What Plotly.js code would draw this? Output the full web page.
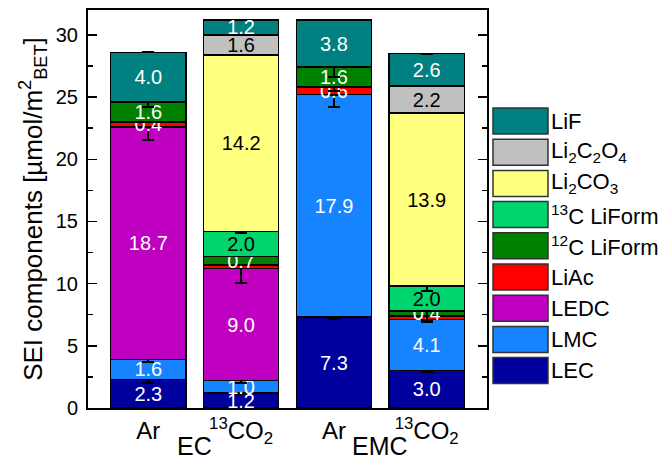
<!DOCTYPE html>
<html>
<head>
<meta charset="utf-8">
<script src="https://cdn.plot.ly/plotly-3.0.1.min.js"></script>
<style>html,body{margin:0;padding:0;background:#fff;}#chart{width:665px;height:460px;}</style>
</head>
<body>
<div id="chart"></div>
<script>
// ---- data ----
const categories = ["Ar", "<sup>13</sup>CO<sub>2</sub>", "Ar", "<sup>13</sup>CO<sub>2</sub>"];
const solvents = ["EC", "EMC"];
const seriesNames = ["LEC", "LMC", "LEDC", "LiAc", "<sup>12</sup>C LiForm", "<sup>13</sup>C LiForm",
  "Li<sub>2</sub>CO<sub>3</sub>", "Li<sub>2</sub>C<sub>2</sub>O<sub>4</sub>", "LiF"];
const LEC      = [2.3, 1.2, 7.3, 3.0];
const LMC      = [1.6, 1.0, 17.9, 4.1];
const LEDC     = [18.7, 9.0, 0, 0];
const LiAc     = [0.4, 0.3, 0.6, 0.3];
const LiForm12 = [1.6, 0.7, 1.6, 0.4];
const LiForm13 = [0, 2.0, 0, 2.0];
const Li2CO3   = [0, 14.2, 0, 13.9];
const Li2C2O4  = [0, 1.6, 0, 2.2];
const LiF      = [4.0, 1.2, 3.8, 2.6];
// error bars (null = none)
const errLEC      = [0.25, 0.1, 0.15, 0.1];
const errLMC      = [0.2, 0.15, 1.0, 0.2];
const errLEDC     = [1.05, 1.15, null, null];
const errLiAc     = [null, null, 0.3, null];
const errLiForm12 = [0.4, null, 0.8, 0.8];
const errLiForm13 = [null, 0.15, null, 0.4];
const errNone     = [null, null, null, null];
// which values carry a printed label
const labelLiAc   = [true, false, true, false];

// ---- styles ----
const seriesValues = [LEC, LMC, LEDC, LiAc, LiForm12, LiForm13, Li2CO3, Li2C2O4, LiF];
const seriesErr = [errLEC, errLMC, errLEDC, errLiAc, errLiForm12, errLiForm13, errNone, errNone, errNone];
const seriesLabelMask = [null, null, null, labelLiAc, null, null, null, null, null];
const seriesColors = ["#00009C", "#1683FF", "#C000C0", "#FF0000", "#008000", "#00D46E", "#FFFF80", "#C0C0C0", "#008080"];
const seriesTextColors = ["#fff", "#fff", "#fff", "#fff", "#fff", "#000", "#000", "#000", "#fff"];
const FONT = "Liberation Sans, Arial, sans-serif";

const xpos = categories.map((c, i) => i);

const traces = seriesValues.map((vals, k) => ({
  type: "bar",
  name: seriesNames[k],
  x: xpos,
  y: vals,
  width: 0.81,
  marker: {color: seriesColors[k], line: {color: "#000", width: 1.5}},
  text: vals.map((v, i) => (v > 0 && (!seriesLabelMask[k] || seriesLabelMask[k][i])) ? v.toFixed(1) : ""),
  textposition: "inside",
  insidetextanchor: "middle",
  textangle: 0,
  constraintext: "none",
  textfont: {family: FONT, size: 20, color: seriesTextColors[k]},
  error_y: {type: "data", array: seriesErr[k], visible: true, color: "#000", thickness: 2, width: 6},
  hoverinfo: "skip",
  showlegend: false
}));

// ---- manual legend (big swatches) ----
const plotL = 88, plotR = 487, plotT = 10, plotB = 408;
const pw = plotR - plotL, ph = plotB - plotT;
const px2x = p => (p - plotL) / pw;
const px2y = p => (plotB - p) / ph;
const shapes = [];
const annotations = [];
const order = seriesNames.map((n, i) => i).reverse();
order.forEach((k, row) => {
  const cy = 121 + row * 31.2;
  shapes.push({type: "rect", xref: "paper", yref: "paper",
    x0: px2x(493), x1: px2x(548), y0: px2y(cy + 13), y1: px2y(cy - 13),
    fillcolor: seriesColors[k], line: {color: "#333", width: 1.5}});
  annotations.push({xref: "paper", yref: "paper", x: px2x(549), y: px2y(cy),
    xanchor: "left", yanchor: "middle", showarrow: false, text: seriesNames[k],
    font: {family: FONT, size: 22, color: "#000"}});
});
solvents.forEach((s, g) => {
  annotations.push({xref: "x", yref: "paper", x: 2 * g + 0.5, y: px2y(446),
    xanchor: "center", yanchor: "middle", showarrow: false, text: s,
    font: {family: FONT, size: 25, color: "#000"}});
});

const layout = {
  width: 665, height: 460,
  margin: {l: plotL, r: 665 - plotR, t: plotT, b: 460 - plotB},
  paper_bgcolor: "#fff", plot_bgcolor: "#fff",
  barmode: "stack",
  showlegend: false,
  font: {family: FONT, size: 20, color: "#000"},
  uniformtext: {mode: "show", minsize: 20},
  xaxis: {
    range: [-0.65, 3.65], tickvals: xpos, ticktext: categories,
    showgrid: false, zeroline: false, ticks: "", showline: true, linecolor: "#000", linewidth: 2,
    mirror: true, tickfont: {family: FONT, size: 24, color: "#000"}, fixedrange: true
  },
  yaxis: {
    range: [0, 32], dtick: 5, tick0: 0, ticks: "inside", ticklen: 9, tickwidth: 1.5, tickcolor: "#000",
    minor: {dtick: 2.5, ticks: "inside", ticklen: 5, tickwidth: 1.5, tickcolor: "#000", showgrid: false},
    showgrid: false, zeroline: false, showline: true, linecolor: "#000", linewidth: 2, mirror: "ticks",
    tickfont: {family: FONT, size: 20, color: "#000"}, ticklabelstandoff: 4,
    title: {text: "SEI components [µmol/m<sup>2</sup><sub>BET</sub>]", font: {family: FONT, size: 26, color: "#000"}, standoff: 6},
    automargin: false, fixedrange: true
  },
  shapes: shapes,
  annotations: annotations
};

Plotly.newPlot("chart", traces, layout, {staticPlot: true, displayModeBar: false});
</script>
</body>
</html>
